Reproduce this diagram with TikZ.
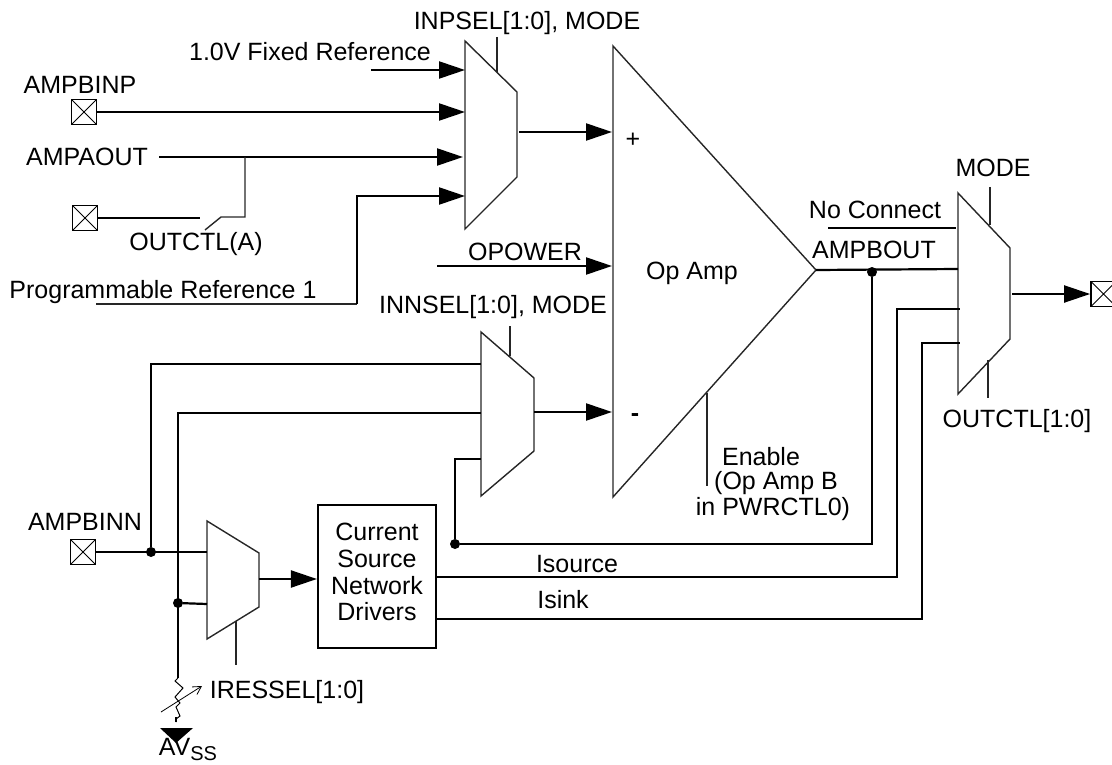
\documentclass[tikz,border=0pt]{standalone}
\usepackage{fontspec}
\setmainfont{Liberation Sans}
\usetikzlibrary{arrows.meta}
\tikzset{
  lbl/.style={inner sep=0pt,font=\fontsize{25}{28}\selectfont},
  sig/.style={line width=2.2pt},
  thin sig/.style={line width=1.4pt,black!85},
  arr/.style={sig,-{Triangle[length=26pt,width=17pt]}},
  muxline/.style={line width=1.4pt,black!85,line join=miter},
  pad/.style={draw,line width=1.8pt,minimum size=25pt,inner sep=0pt,path picture={
    \draw[line width=.8pt] (path picture bounding box.south west)--(path picture bounding box.north east)
      (path picture bounding box.north west)--(path picture bounding box.south east);}},
  dot/.style={circle,fill,inner sep=0pt,minimum size=10pt},
}
\begin{document}
\begin{tikzpicture}[x=1pt,y=-1pt]
  \useasboundingbox (0,0) rectangle (1112,765);
  \foreach \n/\x/\y in {inA/465/70,inB/465/112,inC/463/157,inD/465/196,
    refS/371/70,aoS/159/157,swA/200/218,swB/205/230,swC/221/217,swD/245/217,swE/245/157,
    progS/96/304,progB/357/304,progT/357/196,
    selPa/497/37,selPb/497/72,outP/519/132,plusIn/612/132,
    opS/437/266,opIn/612/266,minusIn/612/412,outN/534/412,
    selNa/510/326,selNb/510/356,nA/481/364,nB/481/413,nC/481/459,nCb/455/459,
    tapA/151/364,tapB/178/413,inRes/207/552,inSel/207/604,tapC/178/678,
    mOut/259/579,selRa/236/621,selRb/236/665,
    tip/816/270,mA/958/269,nc/828/228,ncB/956/228,mC/960/309,mD/960/343,
    srcC/897/309,srcB/897/577,snkC/922/343,snkB/922/619,fbB/872/544,
    selMa/990/187,selMb/990/225,selOa/988/360,selOb/988/398,outM/1012/294,
    enA/707/393,enB/707/486,resT/176/722,gndA/160/728,gndB/193/728,gndC/176/743,
    rArrS/161/712,rArrE/202/686}
    \coordinate (\n) at (\x,\y);

  \draw[muxline] (465,41)--(517,92)--(517,177)--(465,229)--cycle;
  \draw[muxline] (481,332)--(534,378)--(534,451)--(481,496)--cycle;
  \draw[muxline] (207,521)--(259,553)--(259,607)--(207,639)--cycle;
  \draw[muxline] (958,193)--(1010,248)--(1010,339)--(958,394)--cycle;
  \draw[muxline] (613,46)--(tip)--(613,497)--cycle;

  \node[pad] (padP) at (84,112) {};
  \node[pad] (padO) at (85,218) {};
  \node[pad] (padN) at (83,552) {};
  \node[pad] (padM) at (1103.5,294) {};
  \node[draw,line width=2.2pt,minimum width=118pt,minimum height=143pt,inner sep=0pt] (drv) at (377,576.5) {};
  \node[dot] (dotA) at (872,272) {};
  \node[dot] (dotB) at (455,544) {};
  \node[dot] (dotC) at (151,552) {};
  \node[dot] (dotD) at (178,603) {};

  \node[lbl] (tInp) at (527,23) {INPSEL[1:0], MODE};
  \node[lbl] (tRef) at (310,52) {1.0V Fixed Reference};
  \node[lbl] (tBinp) at (80,85) {AMPBINP};
  \node[lbl] (tAout) at (87,157) {AMPAOUT};
  \node[lbl] (tOa) at (196,244) {OUTCTL(A)};
  \node[lbl] (tProg) at (163,292) {Programmable Reference 1};
  \node[lbl] (tOpow) at (525,252) {OPOWER};
  \node[lbl] (tInn) at (493,307) {INNSEL[1:0], MODE};
  \node[lbl] (tPlus) at (633,140) {+};
  \node[lbl,font=\fontsize{25}{28}\bfseries] (tMinus) at (635,418) {-};
  \node[lbl] (tOp) at (692,273) {Op Amp};
  \node[lbl] (tNc) at (875,210) {No Connect};
  \node[lbl] (tBout) at (874,250) {AMPBOUT};
  \node[lbl] (tMode) at (993,168) {MODE};
  \node[lbl] (tOc) at (1017,421) {OUTCTL[1:0]};
  \node[lbl] (tEn) at (761,457) {Enable};
  \node[lbl] (tEnb) at (776,483) {(Op Amp B};
  \node[lbl] (tEnc) at (773,509) {in PWRCTL0)};
  \node[lbl] (tBinn) at (85,522) {AMPBINN};
  \node[lbl] (tDa) at (377,532) {Current};
  \node[lbl] (tDb) at (377,559) {Source};
  \node[lbl] (tDc) at (377,586) {Network};
  \node[lbl] (tDd) at (377,612) {Drivers};
  \node[lbl] (tSrc) at (577,564) {Isource};
  \node[lbl] (tSnk) at (563,600) {Isink};
  \node[lbl] (tRes) at (287,692) {IRESSEL[1:0]};
  \node[lbl] (tAv) at (188,749) {AV\raisebox{-5pt}{\fontsize{20}{20}\selectfont SS}};

  \draw[arr] (refS)--(inA);
  \draw[arr] (padP.east)--(inB);
  \draw[arr] (aoS)--(inC);
  \draw[sig] (padO.east)--(swA);
  \draw[thin sig] (swB)--(swC)--(swD)--(swE);
  \draw[thin sig] (progS)--(progB);
  \draw[arr] (progB)--(progT)--(inD);
  \draw[thin sig] (selPa)--(selPb);
  \draw[arr] (outP)--(plusIn);
  \draw[arr] (opS)--(opIn);
  \draw[arr] (outN)--(minusIn);
  \draw[thin sig] (selNa)--(selNb);
  \draw[sig] (dotC)--(tapA)--(nA);
  \draw[sig] (tapC)--(tapB)--(nB);
  \draw[sig] (dotB)--(nCb)--(nC);
  \draw[sig] (padN.east)--(inRes);
  \draw[sig] (dotD)--(inSel);
  \draw[arr] (mOut)--(drv.west|-mOut);
  \draw[thin sig] (selRa)--(selRb);
  \draw[sig] (tip)--(mA);
  \draw[sig] (nc)--(ncB);
  \draw[sig] (dotA)--(fbB)--(dotB);
  \draw[sig] (drv.east|-srcB)--(srcB)--(srcC)--(mC);
  \draw[sig] (drv.east|-snkB)--(snkB)--(snkC)--(mD);
  \draw[thin sig] (selMa)--(selMb);
  \draw[thin sig] (selOa)--(selOb);
  \draw[arr] (outM)--(padM.west);
  \draw[thin sig] (enA)--(enB);

  \draw[line width=1pt] (tapC)--(175,681)--(183,688)--(175,697)--(180,703)--(176,707)--(180,716)--(176,719)--(resT);
  \draw[sig] (176,717)--(resT);
  \draw[line width=.8pt,-{Straight Barb[length=8pt,width=9pt]}] (rArrS)--(rArrE);
  \fill (gndA)--(gndB)--(gndC)--cycle;
\end{tikzpicture}
\end{document}
